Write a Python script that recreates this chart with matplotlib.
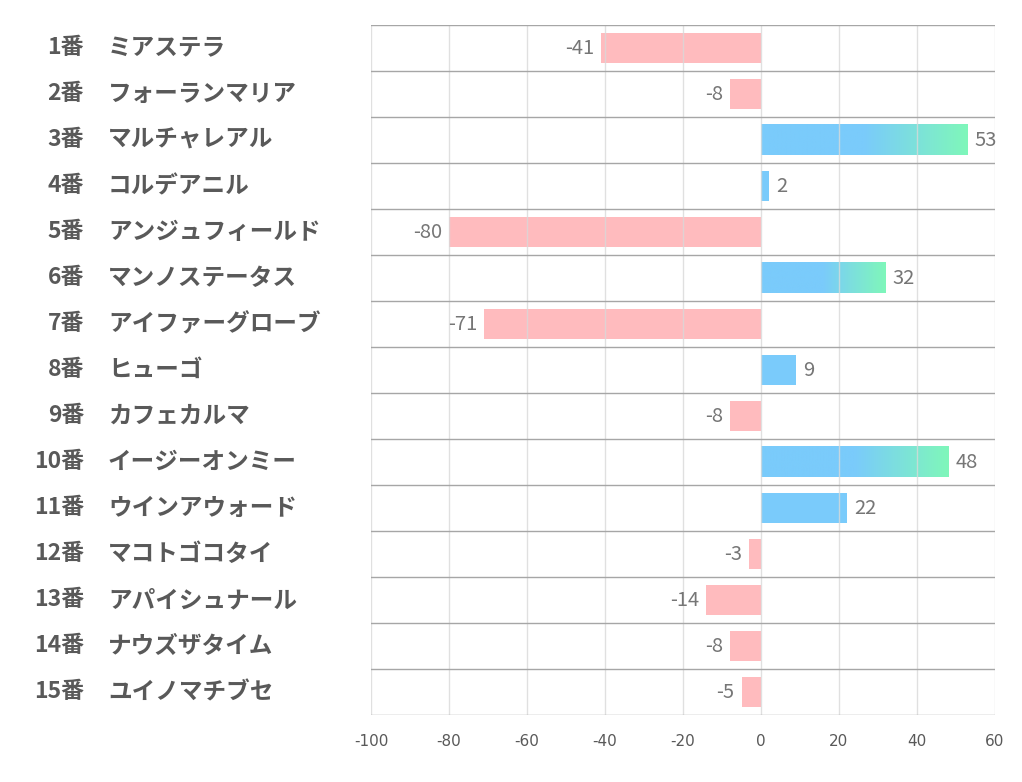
import matplotlib.pyplot as plt
import numpy as np
from matplotlib.colors import to_rgb
from matplotlib.transforms import blended_transform_factory

plt.rcParams['font.family'] = ['Noto Sans CJK JP', 'DejaVu Sans']

numbers = ["1番", "2番", "3番", "4番", "5番", "6番", "7番", "8番", "9番", "10番",
           "11番", "12番", "13番", "14番", "15番"]
names = ["ミアステラ", "フォーランマリア", "マルチャレアル", "コルデアニル", "アンジュフィールド",
         "マンノステータス", "アイファーグローブ", "ヒューゴ", "カフェカルマ", "イージーオンミー",
         "ウインアウォード", "マコトゴコタイ", "アパイシュナール", "ナウズザタイム", "ユイノマチブセ"]
values = [-41, -8, 53, 2, -80, 32, -71, 9, -8, 48, 22, -3, -14, -8, -5]
xticks = [-100, -80, -60, -40, -20, 0, 20, 40, 60]

pink = "#FFBBBE"
blue = "#7ACBFB"
green = "#7FF7BA"
text_grey = "#595959"

fig = plt.figure(figsize=(10.22, 7.82), dpi=100)
ax = fig.add_axes([371 / 1022, 1 - 715 / 782, 624 / 1022, 690 / 782])

ypos = np.arange(len(values))
bar_h = 0.66

# plain bars
for y, v in zip(ypos, values):
    ax.barh(y, v, height=bar_h, color=pink if v < 0 else blue, zorder=2, linewidth=0)

# gradient on the long positive bars (blue -> green over the second half)
c1, c2 = np.array(to_rgb(blue)), np.array(to_rgb(green))
for y, v in zip(ypos, values):
    if v >= 30:
        t = np.linspace(0, 1, 256)
        w = np.clip((t - 0.5) / 0.5, 0, 1)[:, None]
        img = (c1 * (1 - w) + c2 * w)[None, :, :]
        ax.imshow(img, extent=(0, v, y + bar_h / 2, y - bar_h / 2),
                  aspect='auto', zorder=2.5, interpolation='bilinear')

# value labels
for y, v in zip(ypos, values):
    if v < 0:
        ax.text(v - 1.8, y, str(v), ha='right', va='center', fontsize=14.5,
                color="#767676", zorder=4)
    else:
        ax.text(v + 1.8, y, str(v), ha='left', va='center', fontsize=14.5,
                color="#767676", zorder=4)

ax.set_xlim(-100, 60)
ax.set_ylim(len(values) - 0.5, -0.5)

# grid: light verticals, darker row separators
for x in xticks:
    ax.axvline(x, color="#D9D9D9", linewidth=1, zorder=3, alpha=0.8)
for yb in np.arange(-0.5, len(values) + 0.5, 1):
    ax.axhline(yb, color="#A6A6A6", linewidth=1, zorder=3)

for s in ax.spines.values():
    s.set_visible(False)
ax.set_yticks([])
ax.set_xticks(xticks)
ax.set_xticklabels([str(t) for t in xticks], fontsize=11, color=text_grey,
                   family=['Liberation Sans Narrow', 'DejaVu Sans'])
ax.tick_params(axis='x', length=0, pad=14)

# row labels on the left
tr = blended_transform_factory(fig.transFigure, ax.transData)
for y, num, name in zip(ypos, numbers, names):
    fig.text(84 / 1022, y, num, transform=tr, ha='right', va='center',
             fontsize=16.5, fontweight='bold', color=text_grey)
    fig.text(108 / 1022, y, name, transform=tr, ha='left', va='center',
             fontsize=17, fontweight='bold', color=text_grey)

fig.savefig("out.png", dpi=100, facecolor="white")
